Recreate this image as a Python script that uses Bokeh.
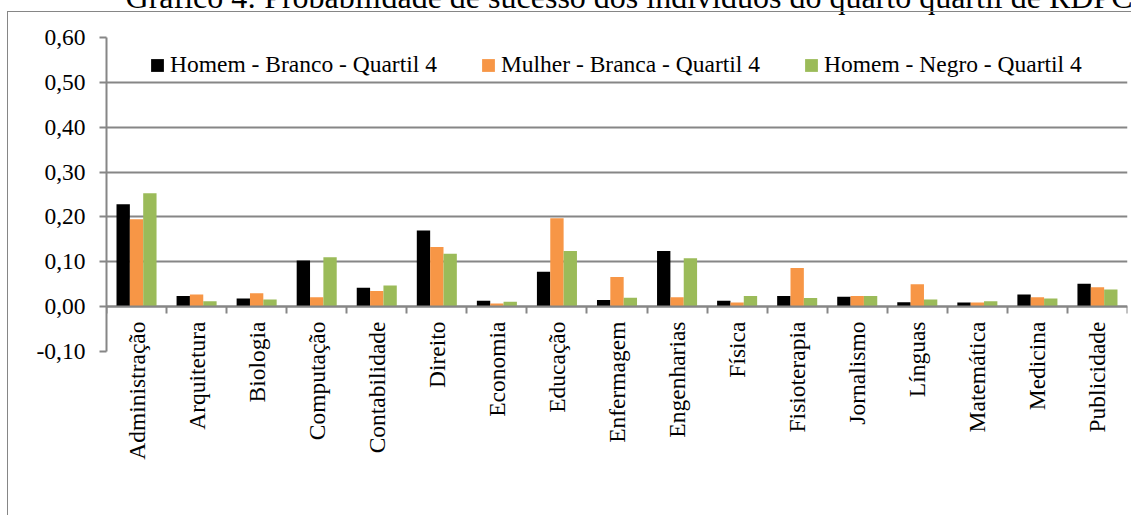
import math
from bokeh.plotting import figure
from bokeh.models import (ColumnDataSource, FixedTicker, CustomJSTickFormatter, Range1d,
                          Legend, LegendItem, LinearAxis, InlineStyleSheet)
from bokeh.transform import dodge
from bokeh.embed import file_html
from bokeh.resources import INLINE

cursos = ["Administração", "Arquitetura", "Biologia", "Computação", "Contabilidade",
          "Direito", "Economia", "Educação", "Enfermagem", "Engenharias", "Física",
          "Fisioterapia", "Jornalismo", "Línguas", "Matemática", "Medicina", "Publicidade"]
homem_branco = [0.228, 0.024, 0.018, 0.103, 0.042, 0.170, 0.013, 0.078, 0.015, 0.124,
                0.013, 0.024, 0.022, 0.010, 0.009, 0.027, 0.051]
mulher_branca = [0.195, 0.027, 0.030, 0.021, 0.035, 0.133, 0.007, 0.197, 0.066, 0.021,
                 0.009, 0.086, 0.024, 0.050, 0.009, 0.021, 0.043]
homem_negro = [0.253, 0.012, 0.016, 0.110, 0.047, 0.118, 0.011, 0.124, 0.020, 0.108,
               0.024, 0.019, 0.024, 0.016, 0.012, 0.018, 0.038]
series_names = ["Homem - Branco - Quartil 4", "Mulher - Branca - Quartil 4",
                "Homem - Negro - Quartil 4"]
colors = ["#000000", "#F79646", "#9BBB59"]
y_ticks = [-0.1, 0.0, 0.1, 0.2, 0.3, 0.4, 0.5, 0.6]
title_text = "Gráfico 4: Probabilidade de sucesso dos indivíduos do quarto quartil de RDPC"

FONT = "Liberation Serif"
FS = "23.5px"
GREY = "#868686"
LW = 2
W, H = 1131, 515

n = len(cursos)
centers = [i + 0.5 for i in range(n)]
bounds = list(range(n + 1))
source = ColumnDataSource(dict(x=centers, hb=homem_branco, mb=mulher_branca, hn=homem_negro))

p = figure(width=W, height=H, x_range=Range1d(0, n), y_range=Range1d(-0.1, 0.6),
           output_backend="svg", toolbar_location=None, x_axis_location=None,
           min_border_left=106, min_border_right=4, min_border_top=37, min_border_bottom=164)
p.outline_line_color = None
p.background_fill_color = "white"
p.border_fill_color = "white"
p.xgrid.visible = False

# outer chart border (left and top edges visible, the rest is cut off in the reference)
p.stylesheets = [InlineStyleSheet(css="""
:host { position: relative; }
:host::after { content: ""; position: absolute; left: 7px; top: 11px;
  width: calc(100% - 7px); height: calc(100% - 11px); box-sizing: border-box;
  border-left: 1px solid #868686; border-top: 1px solid #868686;
  pointer-events: none; }
""")]

# y axis
yt = FixedTicker(ticks=y_ticks, minor_ticks=[])
p.yaxis.ticker = yt
p.yaxis.formatter = CustomJSTickFormatter(code="return tick.toFixed(2).replace('.', ',');")
p.yaxis.axis_line_color = GREY
p.yaxis.axis_line_width = LW
p.yaxis.major_tick_line_color = GREY
p.yaxis.major_tick_line_width = LW
p.yaxis.major_tick_out = 7
p.yaxis.major_tick_in = 0
p.yaxis.minor_tick_line_color = None
p.yaxis.major_label_text_font = FONT
p.yaxis.major_label_text_font_size = FS
p.yaxis.major_label_text_color = "black"
p.yaxis.major_label_standoff = 14
p.ygrid.ticker = yt
p.ygrid.grid_line_color = GREY
p.ygrid.grid_line_width = LW

# category axis line at zero with ticks between categories
tick_axis = LinearAxis(ticker=FixedTicker(ticks=[], minor_ticks=bounds), fixed_location=0)
tick_axis.axis_line_color = GREY
tick_axis.axis_line_width = LW
tick_axis.major_tick_line_color = None
tick_axis.minor_tick_line_color = GREY
tick_axis.minor_tick_line_width = LW
tick_axis.minor_tick_in = 7
tick_axis.minor_tick_out = 0
p.add_layout(tick_axis, "above")

# category labels at centers, reading bottom-to-top; the (cut off) chart title is
# carried by this axis' label, lifted to the top edge of the page
label_axis = LinearAxis(ticker=FixedTicker(ticks=centers, minor_ticks=[]),
                        major_label_overrides={c: name for c, name in zip(centers, cursos)},
                        major_label_orientation=math.pi / 2)
label_axis.axis_line_color = None
label_axis.major_tick_line_color = None
label_axis.major_tick_out = 0
label_axis.major_tick_in = 0
label_axis.minor_tick_line_color = None
label_axis.major_label_text_font = FONT
label_axis.major_label_text_font_size = FS
label_axis.major_label_text_color = "black"
label_axis.major_label_standoff = -30
label_axis.axis_label = "\u00a0\u00a0\u00a0" + title_text
label_axis.axis_label_text_font = FONT
label_axis.axis_label_text_font_size = "32px"
label_axis.axis_label_text_font_style = "normal"
label_axis.axis_label_text_color = "black"
label_axis.axis_label_standoff = -484
p.add_layout(label_axis, "below")

bw = 2 / 9
cols = ["hb", "mb", "hn"]
renderers = []
for k, (col, color) in enumerate(zip(cols, colors)):
    r = p.vbar(x=dodge("x", (k - 1) * bw, range=p.x_range), top=col, bottom=0, width=bw,
               source=source, fill_color=color, line_color=None)
    renderers.append(r)

legend = Legend(items=[LegendItem(label=nm, renderers=[r]) for nm, r in zip(series_names, renderers)],
                orientation="horizontal", location=(43, 273), glyph_width=16, glyph_height=16,
                label_standoff=5, spacing=43, padding=0, margin=0,
                border_line_alpha=0, background_fill_alpha=0,
                label_text_font=FONT, label_text_font_size=FS, label_text_color="black")
p.add_layout(legend)

open("out.html", "w").write(file_html(p, INLINE))
